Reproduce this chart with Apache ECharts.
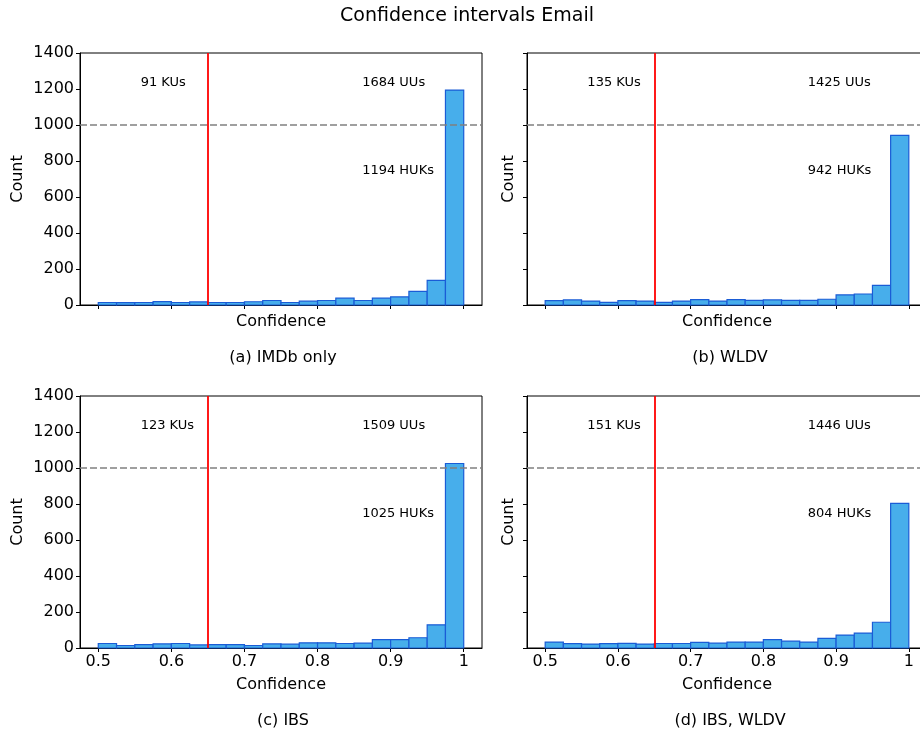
<!DOCTYPE html>
<html>
<head>
<meta charset="utf-8">
<script src="https://cdn.jsdelivr.net/npm/echarts@6/dist/echarts.min.js"></script>
<style>
  html, body { margin: 0; padding: 0; background: #fff; }
  #main { width: 920px; height: 733px; }
</style>
</head>
<body>
<div id="main"></div>
<script>
// bin edges of the histograms (20 bins)
var binEdges = [0.5, 0.525, 0.55, 0.575, 0.6, 0.625, 0.65, 0.675, 0.7, 0.725, 0.75,
                0.775, 0.8, 0.825, 0.85, 0.875, 0.9, 0.925, 0.95, 0.975, 1.0];

// counts per bin, one array per panel
var imdbCounts    = [14, 13, 14, 19, 14, 17, 14, 14, 18, 25, 14, 21, 25, 38, 25, 38, 45, 76, 137, 1194];
var wldvCounts    = [24, 28, 22, 15, 24, 22, 15, 22, 30, 22, 30, 26, 28, 26, 26, 32, 56, 61, 109, 942];
var ibsCounts     = [25, 14, 19, 23, 25, 17, 19, 19, 14, 23, 21, 29, 29, 25, 27, 46, 46, 57, 129, 1025];
var ibsWldvCounts = [33, 24, 22, 24, 26, 22, 25, 25, 31, 27, 33, 33, 46, 38, 33, 53, 72, 83, 143, 804];

var kuLabels  = ['91 KUs', '135 KUs', '123 KUs', '151 KUs'];
var uuLabels  = ['1684 UUs', '1425 UUs', '1509 UUs', '1446 UUs'];
var hukLabels = ['1194 HUKs', '942 HUKs', '1025 HUKs', '804 HUKs'];
var captions  = ['(a) IMDb only', '(b) WLDV', '(c) IBS', '(d) IBS, WLDV'];

var xTicks = [0.5, 0.6, 0.7, 0.8, 0.9, 1.0];
var threshold = 0.65;   // red line
var hukLevel = 1000;    // dashed line

var allCounts = [imdbCounts, wldvCounts, ibsCounts, ibsWldvCounts];

// panel layout (pixels)
var panels = [
    { left: 80,  top: 53,  width: 402, bottom: false, leftCol: true },
    { left: 527, top: 53,  width: 400, bottom: false, leftCol: false },
    { left: 80,  top: 396, width: 402, bottom: true,  leftCol: true },
    { left: 527, top: 396, width: 400, bottom: true,  leftCol: false }
];
var plotH = 252;
var FONT = '"DejaVu Sans", sans-serif';

var chart = echarts.init(document.getElementById('main'));

var grids = [], xAxes = [], yAxes = [], series = [];
var titles = [{
    text: 'Confidence intervals Email',
    left: 462, top: 2, textAlign: 'center',
    textStyle: { fontSize: 19, fontWeight: 'normal', color: '#000', fontFamily: FONT }
}];

panels.forEach(function(p, i) {
    grids.push({
        left: p.left, top: p.top, width: p.width, height: plotH,
        outerBoundsMode: 'none',
        show: true, borderColor: '#000', borderWidth: 1, backgroundColor: 'transparent'
    });

    xAxes.push({
        type: 'value', gridIndex: i, min: 0.475, max: 1.025,
        axisLine: { show: true, onZero: false, lineStyle: { color: '#000', width: 1 } },
        axisTick: { show: true, customValues: xTicks, length: 4, lineStyle: { color: '#000' } },
        axisLabel: {
            show: p.bottom, customValues: xTicks, margin: 6,
            fontSize: 16, color: '#000', fontFamily: FONT,
            formatter: function(v) { return String(Math.round(v * 10) / 10); }
        },
        splitLine: { show: false },
        name: 'Confidence', nameLocation: 'middle', nameGap: p.bottom ? 29 : 9,
        nameTextStyle: { fontSize: 16, color: '#000', fontFamily: FONT }
    });

    yAxes.push({
        type: 'value', gridIndex: i, min: 0, max: 1400, interval: 200,
        axisLine: { show: true, lineStyle: { color: '#000', width: 1 } },
        axisTick: { show: true, length: 4, lineStyle: { color: '#000' } },
        axisLabel: {
            show: p.leftCol, margin: 6, fontSize: 16, color: '#000', fontFamily: FONT,
            formatter: function(v) { return String(v); }
        },
        splitLine: { show: false },
        name: 'Count', nameLocation: 'middle', nameGap: p.leftCol ? 54 : 10,
        nameTextStyle: { fontSize: 16, color: '#000', fontFamily: FONT }
    });

    // dashed line at 1000 (behind the bars)
    series.push({
        type: 'line', xAxisIndex: i, yAxisIndex: i, data: [], z: 1, silent: true,
        markLine: {
            symbol: 'none', silent: true, label: { show: false },
            lineStyle: { color: '#808080', type: [7, 3], width: 1.6 },
            data: [{ yAxis: hukLevel }],
            animation: false
        }
    });

    // histogram bars
    series.push({
        type: 'custom', xAxisIndex: i, yAxisIndex: i, z: 2,
        data: allCounts[i].map(function(c, k) { return [binEdges[k], binEdges[k + 1], c]; }),
        encode: { x: [0, 1], y: 2 },
        renderItem: function(params, api) {
            var p0 = api.coord([api.value(0), api.value(2)]);
            var p1 = api.coord([api.value(1), 0]);
            return {
                type: 'rect',
                shape: { x: p0[0], y: p0[1], width: p1[0] - p0[0], height: p1[1] - p0[1] },
                style: { fill: '#47AEEB', stroke: '#1A5CD6', lineWidth: 1.2 }
            };
        },
        animation: false
    });

    // red threshold line (over the bars)
    series.push({
        type: 'line', xAxisIndex: i, yAxisIndex: i, data: [], z: 3, silent: true,
        markLine: {
            symbol: 'none', silent: true, label: { show: false },
            lineStyle: { color: '#ff0000', type: 'solid', width: 1.8 },
            data: [{ xAxis: threshold }],
            animation: false
        }
    });

    // KUs / UUs / HUKs annotations
    series.push({
        type: 'custom', xAxisIndex: i, yAxisIndex: i, z: 4,
        data: [[0.558, 1233, kuLabels[i]], [0.861, 1233, uuLabels[i]], [0.861, 744, hukLabels[i]]],
        renderItem: function(params, api) {
            var pt = api.coord([api.value(0), api.value(1)]);
            return {
                type: 'text', x: pt[0], y: pt[1],
                style: {
                    text: api.value(2), fill: '#000', font: '13px ' + FONT,
                    align: 'left', verticalAlign: 'middle'
                }
            };
        },
        animation: false
    });

    titles.push({
        text: captions[i],
        left: p.left + (p.leftCol ? 198 : 198), top: p.top + plotH + (p.bottom ? 60 : 40),
        textAlign: 'center',
        textStyle: { fontSize: 16, fontWeight: 'normal', color: '#000', fontFamily: FONT }
    });
});

chart.setOption({
    animation: false,
    title: titles,
    grid: grids,
    xAxis: xAxes,
    yAxis: yAxes,
    series: series
});
</script>
</body>
</html>
